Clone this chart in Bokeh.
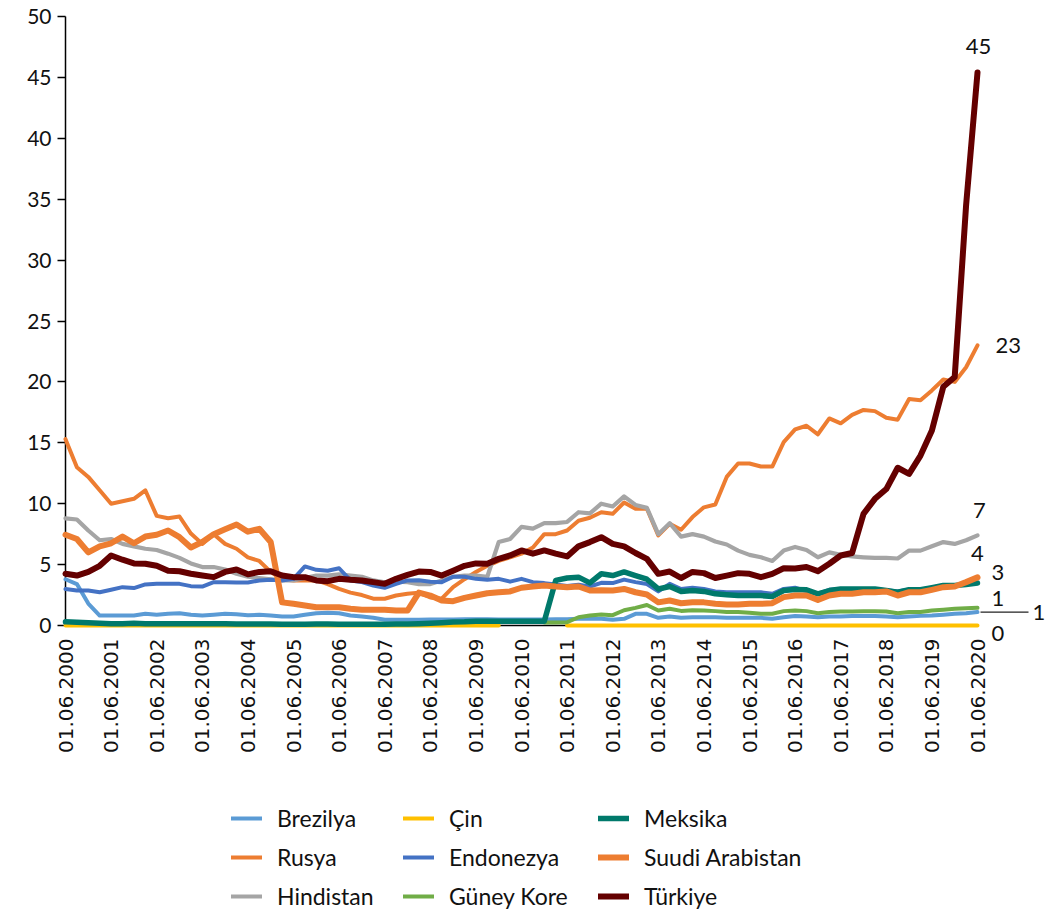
import math
from bokeh.plotting import figure
from bokeh.models import Range1d, FixedTicker, Legend, LegendItem, Label, Arrow, ColumnDataSource
from bokeh.embed import file_html
from bokeh.resources import INLINE

NaN = float("nan")

# quarterly observations, 2000Q2 (01.06.2000) .. 2020Q2 (01.06.2020)
tick_labels = ["01.06.%d" % y for y in range(2000, 2021)]

brezilya = [3.8, 3.4, 1.8, 0.82, 0.82, 0.82, 0.82, 0.96, 0.88, 0.96,
            1.0, 0.88, 0.82, 0.88, 0.96, 0.92, 0.85, 0.88, 0.82, 0.74,
            0.74, 0.88, 1.0, 1.04, 1.0, 0.82, 0.74, 0.63, 0.47, 0.47,
            0.47, 0.47, 0.5, 0.5, 0.5, 0.52, 0.52, 0.52, 0.5, 0.5,
            0.5, 0.5, 0.5, 0.52, 0.52, 0.55, 0.55, 0.55, 0.47, 0.55,
            0.96, 0.96, 0.63, 0.74, 0.63, 0.68, 0.68, 0.68, 0.63, 0.63,
            0.63, 0.63, 0.55, 0.68, 0.78, 0.74, 0.68, 0.74, 0.74, 0.77,
            0.77, 0.77, 0.74, 0.68, 0.74, 0.79, 0.82, 0.88, 0.96, 1.0,
            1.1]
rusya = [15.3, 13.0, 12.2, 11.1, 10.0, 10.2, 10.4, 11.1, 9.0, 8.8,
         8.95, 7.55, 6.7, 7.5, 6.7, 6.3, 5.6, 5.3, 4.4, 3.8,
         3.7, 3.7, 3.7, 3.4, 3.0, 2.7, 2.5, 2.2, 2.2, 2.46,
         2.6, 2.7, 2.3, 2.2, 3.15, 3.8, 4.4, 4.9, 5.3, 5.6,
         5.9, 6.4, 7.5, 7.5, 7.8, 8.6, 8.85, 9.3, 9.17, 10.1,
         9.58, 9.58, 7.4, 8.35, 7.86, 8.9, 9.7, 9.93, 12.2, 13.3,
         13.3, 13.05, 13.05, 15.05, 16.1, 16.4, 15.7, 17.0, 16.6, 17.3,
         17.7, 17.6, 17.05, 16.9, 18.6, 18.5, 19.3, 20.2, 20.0, 21.2,
         23.0]
hindistan = [8.8, 8.7, 7.8, 7.0, 7.1, 6.7, 6.5, 6.3, 6.2, 5.9,
             5.55, 5.1, 4.8, 4.8, 4.6, 4.25, 4.0, 3.9, 3.8, 3.7,
             3.7, 3.9, 4.1, 4.1, 4.2, 4.1, 4.0, 3.7, 3.55, 3.6,
             3.55, 3.4, 3.4, 3.7, 4.0, 4.1, 4.1, 4.0, 6.85, 7.1,
             8.1, 7.95, 8.4, 8.4, 8.5, 9.3, 9.2, 10.0, 9.77, 10.6,
             9.9, 9.66, 7.5, 8.4, 7.3, 7.5, 7.3, 6.9, 6.65, 6.15,
             5.8, 5.6, 5.3, 6.15, 6.45, 6.2, 5.6, 6.0, 5.8, 5.67,
             5.6, 5.55, 5.55, 5.5, 6.15, 6.15, 6.5, 6.85, 6.7, 7.0,
             7.4]
cin = [0.0] * 39 + [NaN] * 5 + [0.0] * 37
endonezya = [3.0, 2.87, 2.87, 2.73, 2.93, 3.15, 3.07, 3.37, 3.42, 3.42,
             3.42, 3.23, 3.2, 3.56, 3.56, 3.53, 3.53, 3.7, 3.75, 3.7,
             3.83, 4.85, 4.57, 4.5, 4.7, 3.7, 3.56, 3.28, 3.1, 3.42,
             3.7, 3.72, 3.6, 3.56, 4.0, 4.0, 3.83, 3.75, 3.83, 3.6,
             3.83, 3.56, 3.48, 3.37, 3.25, 3.35, 3.2, 3.5, 3.48, 3.77,
             3.56, 3.4, 2.8, 3.42, 3.0, 3.1, 3.0, 2.8, 2.73, 2.73,
             2.73, 2.73, 2.6, 3.0, 3.1, 2.82, 2.6, 2.93, 3.0, 3.0,
             3.0, 3.0, 2.9, 2.8, 2.95, 2.95, 3.1, 3.3, 3.3, 3.4,
             3.5]
guney_kore = [NaN] * 42 + [
    0.25, 0.25, 0.27, 0.68, 0.82, 0.9, 0.85, 1.25,
    1.45, 1.68, 1.23, 1.37, 1.2, 1.25, 1.23, 1.18, 1.1, 1.1,
    1.04, 0.96, 0.96, 1.18, 1.23, 1.18, 1.0, 1.1, 1.15, 1.15,
    1.18, 1.18, 1.15, 1.0, 1.1, 1.1, 1.23, 1.3, 1.37, 1.42,
    1.45]
meksika = [0.3, 0.27, 0.22, 0.18, 0.15, 0.15, 0.18, 0.15, 0.15, 0.15,
           0.15, 0.15, 0.15, 0.15, 0.15, 0.13, 0.13, 0.12, 0.12, 0.1,
           0.1, 0.1, 0.12, 0.12, 0.1, 0.1, 0.1, 0.1, 0.1, 0.12,
           0.12, 0.15, 0.18, 0.22, 0.28, 0.3, 0.35, 0.35, 0.35, 0.35,
           0.35, 0.35, 0.35, 3.7, 3.9, 3.97, 3.5, 4.25, 4.1, 4.4,
           4.1, 3.8, 3.0, 3.2, 2.8, 2.87, 2.8, 2.6, 2.52, 2.46,
           2.46, 2.46, 2.38, 2.87, 2.95, 2.93, 2.6, 2.87, 3.0, 3.0,
           3.0, 3.0, 2.87, 2.73, 2.93, 2.93, 3.1, 3.28, 3.28, 3.37,
           3.48]
suudi = [7.45, 7.1, 6.0, 6.5, 6.75, 7.3, 6.75, 7.3, 7.45, 7.8,
         7.25, 6.4, 6.85, 7.5, 7.9, 8.3, 7.7, 7.94, 6.85, 1.9,
         1.78, 1.64, 1.5, 1.5, 1.5, 1.37, 1.3, 1.3, 1.3, 1.23,
         1.23, 2.7, 2.46, 2.05, 2.0, 2.27, 2.46, 2.65, 2.73, 2.8,
         3.1, 3.2, 3.28, 3.2, 3.15, 3.2, 2.87, 2.9, 2.87, 3.0,
         2.73, 2.54, 1.9, 2.05, 1.83, 1.9, 1.9, 1.78, 1.72, 1.72,
         1.78, 1.78, 1.83, 2.33, 2.46, 2.46, 2.1, 2.46, 2.6, 2.6,
         2.73, 2.73, 2.8, 2.46, 2.73, 2.73, 2.93, 3.15, 3.2, 3.56,
         3.95]
turkiye = [4.25, 4.1, 4.4, 4.9, 5.75, 5.4, 5.1, 5.07, 4.9, 4.5,
           4.45, 4.25, 4.1, 3.97, 4.4, 4.6, 4.2, 4.4, 4.45, 4.1,
           3.97, 3.97, 3.7, 3.64, 3.83, 3.75, 3.7, 3.56, 3.42, 3.83,
           4.16, 4.43, 4.4, 4.1, 4.5, 4.9, 5.1, 5.07, 5.47, 5.75,
           6.16, 5.9, 6.16, 5.9, 5.67, 6.5, 6.85, 7.25, 6.7, 6.5,
           5.95, 5.47, 4.24, 4.43, 3.9, 4.4, 4.3, 3.9, 4.1, 4.3,
           4.24, 3.97, 4.24, 4.7, 4.68, 4.8, 4.46, 5.07, 5.75, 5.95,
           9.17, 10.4, 11.2, 12.95, 12.45, 13.95, 16.0, 19.6, 20.4, 34.5,
           45.4]

series = [
    ("Brezilya", brezilya, "#5B9BD5", 4),
    ("Rusya", rusya, "#ED7D31", 4),
    ("Hindistan", hindistan, "#A5A5A5", 4.2),
    ("Çin", cin, "#FFC000", 4),
    ("Endonezya", endonezya, "#4472C4", 4),
    ("Güney Kore", guney_kore, "#70AD47", 4),
    ("Meksika", meksika, "#00796B", 5.5),
    ("Suudi Arabistan", suudi, "#ED7D31", 6),
    ("Türkiye", turkiye, "#640000", 6),
]

FONT = "Lato"
TXT = "#111111"

# The frame covers the whole canvas; axes are pinned at 0 with fixed_location.
W, H = 1046, 910
X0_PX, DX_PX = 65.0, 11.4          # px of first quarter, px per quarter
Y0_PX, DY_PX = 625.0, 12.18        # px of value 0 (from top), px per unit
x_range = Range1d(-X0_PX / DX_PX, (W - X0_PX) / DX_PX)
y_range = Range1d(-(H - Y0_PX) / DY_PX, Y0_PX / DY_PX)

p = figure(width=W, height=H, x_range=x_range, y_range=y_range,
           output_backend="svg", toolbar_location=None,
           min_border_left=0, min_border_right=0, min_border_top=0, min_border_bottom=0)
p.outline_line_color = None
p.xgrid.visible = False
p.ygrid.visible = False
p.background_fill_color = "white"
p.border_fill_color = "white"

x_idx = list(range(len(brezilya)))
renderers = {}
for name, vals, color, w in series:
    src = ColumnDataSource(dict(x=x_idx, y=vals))
    r = p.line("x", "y", source=src, line_color=color, line_width=w,
               line_cap="round", line_join="round")
    renderers[name] = r

# axes
xa = p.xaxis[0]
xa.fixed_location = 0
xa.bounds = (0, len(brezilya) - 1)
xa.level = "underlay"
xa.ticker = FixedTicker(ticks=[i * 4 for i in range(len(tick_labels))])
xa.major_label_overrides = {i * 4: lab for i, lab in enumerate(tick_labels)}
xa.major_label_orientation = math.pi / 2
xa.major_tick_out = 0
xa.major_tick_in = 0
xa.minor_tick_line_color = None
xa.major_label_standoff = 13
xa.major_label_text_font = "DejaVu Sans"
xa.major_label_text_font_size = "20px"
xa.major_label_text_color = TXT
xa.axis_line_color = "black"
xa.axis_line_width = 1.5

ya = p.yaxis[0]
ya.fixed_location = 0
ya.bounds = (0, 50)
ya.level = "underlay"
ya.ticker = FixedTicker(ticks=list(range(0, 51, 5)))
ya.major_tick_out = 8
ya.major_tick_in = 0
ya.major_tick_line_color = "black"
ya.major_tick_line_width = 1.5
ya.minor_tick_line_color = None
ya.major_label_standoff = 6
ya.major_label_text_font = FONT
ya.major_label_text_font_size = "21px"
ya.major_label_text_color = TXT
ya.axis_line_color = "black"
ya.axis_line_width = 1.5

# end-value labels
last_i = len(brezilya) - 1
last = {name: vals[-1] for name, vals, _, _ in series}
label_specs = [
    ("Türkiye", 1, 26, "center"),
    ("Rusya", 18, 0, "left"),
    ("Hindistan", 2, 25, "center"),
    ("Suudi Arabistan", 0, 24, "center"),
    ("Meksika", 14, 11, "left"),
    ("Güney Kore", 14, 9, "left"),
    ("Brezilya", 55, 0, "left"),
    ("Çin", 14, -8, "left"),
]
for name, dx, dy, align in label_specs:
    v = last[name]
    p.add_layout(Label(x=last_i, y=v, x_offset=dx, y_offset=dy, text="%.0f" % v,
                       text_align=align, text_baseline="middle",
                       text_font=FONT, text_font_size="22px", text_color=TXT))
p.add_layout(Arrow(end=None, x_start=last_i + 3 / DX_PX, y_start=last["Brezilya"],
                   x_end=last_i + 51 / DX_PX, y_end=last["Brezilya"],
                   line_color="#222222", line_width=1.2))

# legend: three columns below the axis labels
columns = [["Brezilya", "Rusya", "Hindistan"],
           ["Çin", "Endonezya", "Güney Kore"],
           ["Meksika", "Suudi Arabistan", "Türkiye"]]
col_x = [231, 403, 598]
for names, cx in zip(columns, col_x):
    leg = Legend(items=[LegendItem(label=n, renderers=[renderers[n]]) for n in names],
                 location=(cx, 0), orientation="vertical",
                 glyph_width=31, glyph_height=22, label_height=22,
                 label_standoff=15, spacing=11, padding=0, margin=0,
                 border_line_color=None, background_fill_alpha=0,
                 label_text_font=FONT, label_text_font_size="23px",
                 label_text_color=TXT)
    p.add_layout(leg, "center")

open("out.html", "w").write(file_html(p, INLINE))
